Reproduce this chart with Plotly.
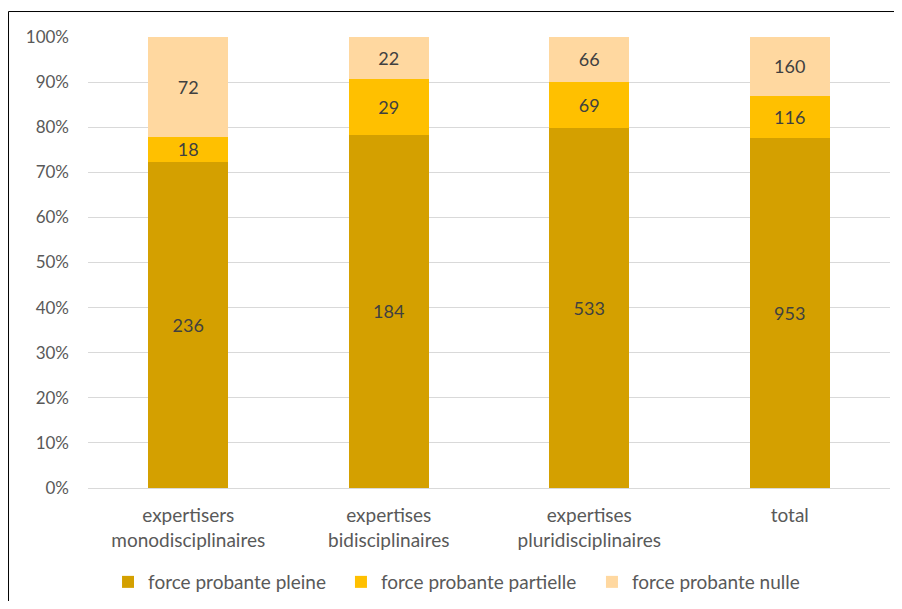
import plotly.graph_objects as go

categories = ["expertisers<br>monodisciplinaires", "expertises<br>bidisciplinaires",
              "expertises<br>pluridisciplinaires", "total"]
pleine = [236, 184, 533, 953]
partielle = [18, 29, 69, 116]
nulle = [72, 22, 66, 160]
series_names = ["force probante pleine", "force probante partielle", "force probante nulle"]
colors = ["#D4A000", "#FFC000", "#FFD8A0"]

totals = [a + b + c for a, b, c in zip(pleine, partielle, nulle)]

legend_ids = ["legend2", "legend3", "legend4"]
legend_x = [0.1129, 0.3758, 0.6591]

fig = go.Figure()
for name, vals, col, lid in zip(series_names, [pleine, partielle, nulle], colors, legend_ids):
    fig.add_trace(go.Bar(
        x=categories, y=[v / t for v, t in zip(vals, totals)], name=name,
        marker=dict(color=col, line=dict(width=0)),
        text=[str(v) for v in vals], textposition="inside", insidetextanchor="middle",
        textangle=0,
        textfont=dict(color="#404040", size=18, family="Lato"),
        hoverinfo="skip", legend=lid,
    ))

legend_common = dict(orientation="h", y=0.032, yanchor="middle", xanchor="left",
                     xref="container", yref="container",
                     font=dict(size=19, color="#595959", family="Lato"),
                     bgcolor="rgba(0,0,0,0)")

fig.update_layout(
    barmode="stack", bargap=0.6,
    width=886, height=593,
    margin=dict(l=80, r=4, t=29, b=113, autoexpand=False),
    paper_bgcolor="white", plot_bgcolor="white",
    font=dict(family="Lato", color="#595959", size=17),
    uniformtext=dict(mode="show", minsize=18),
    yaxis=dict(range=[0, 1], tickformat=".0%", dtick=0.1, showgrid=True,
               gridcolor="#D9D9D9", gridwidth=1.3, zeroline=False,
               tickfont=dict(size=17, color="#595959"), ticks="", ticklabelstandoff=18),
    xaxis=dict(showline=True, linecolor="#D9D9D9", linewidth=1.3, ticks="",
               tickfont=dict(size=19, color="#595959"), ticklabelstandoff=10),
    legend2=dict(x=legend_x[0], **legend_common),
    legend3=dict(x=legend_x[1], **legend_common),
    legend4=dict(x=legend_x[2], **legend_common),
    shapes=[dict(type="rect", xref="paper", yref="paper",
                 x0=-0.0991, x1=1.2, y0=-0.4, y1=1.0565,
                 line=dict(color="black", width=1), fillcolor="rgba(0,0,0,0)", layer="below")],
)

fig.write_html("out.html")
